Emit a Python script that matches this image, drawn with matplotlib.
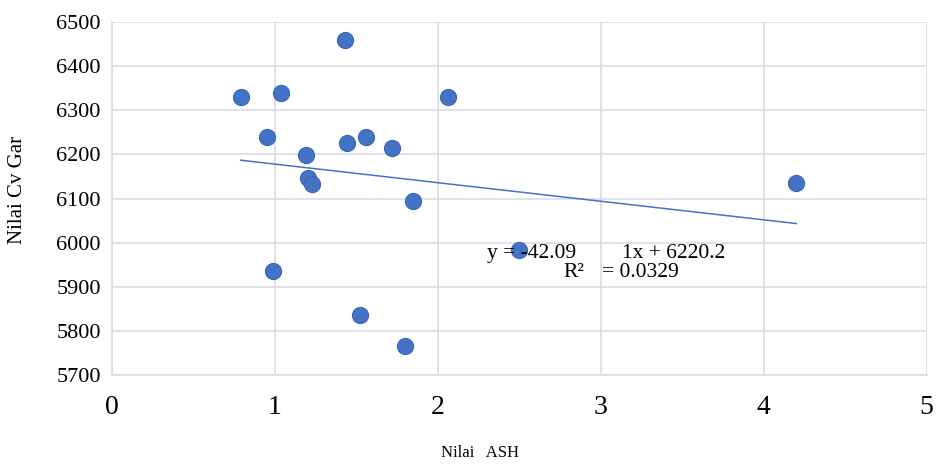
import numpy as np
import matplotlib.pyplot as plt

plt.rcParams['font.family'] = ['Liberation Serif', 'DejaVu Serif']

# Data
ash = [0.79, 1.04, 0.95, 1.19, 1.20, 1.23, 1.43, 1.44, 1.56, 1.72, 1.85, 2.06,
       0.99, 2.50, 1.52, 1.80, 4.20]
cv_gar = [6330, 6340, 6240, 6198, 6146, 6133, 6460, 6227, 6240, 6214, 6094, 6330,
          5935, 5983, 5836, 5765, 6136]

slope = -42.091
intercept = 6220.2
r2 = 0.0329

xticks = [0, 1, 2, 3, 4, 5]
yticks = [5700, 5800, 5900, 6000, 6100, 6200, 6300, 6400, 6500]

fig = plt.figure(figsize=(9.37, 4.70), dpi=100)
ax = fig.add_axes([0.1195, 0.202, 0.8695, 0.751])

grid_col = '#d9dde6'
ax.set_axisbelow(True)
ax.grid(True, color=grid_col, linewidth=1.2)
for side in ['top', 'right']:
    ax.spines[side].set_visible(False)
for side in ['left', 'bottom']:
    ax.spines[side].set_color(grid_col)
    ax.spines[side].set_linewidth(1.2)

ax.scatter(ash, cv_gar, s=135, color='#4472c4', edgecolors='#3a66b8',
           linewidths=0.8, zorder=3)

# linear trendline over the data range
xt = np.array([min(ash), max(ash)])
ax.plot(xt, slope * xt + intercept, color='#4472c4', linewidth=1.1, zorder=2)

ax.set_xlim(0, 5)
ax.set_ylim(5700, 6500)
ax.set_xticks(xticks)
ax.set_yticks(yticks)
ax.tick_params(axis='x', length=0, labelsize=20, pad=14)
ax.tick_params(axis='y', length=0, labelsize=16, pad=8)

# trendline equation (pieces are spaced apart as in the original)
eq_kw = dict(fontsize=15.5, va='center', zorder=4)
ax.text(2.30, 5976, 'y = %.2f' % slope, **eq_kw)
ax.text(3.13, 5976, '1x + %.1f' % intercept, **eq_kw)
ax.text(2.77, 5933, 'R²', **eq_kw)
ax.text(3.01, 5933, '= %.4f' % r2, **eq_kw)

fig.text(0.512, 0.02, 'Nilai   ASH', fontsize=12, ha='center', va='bottom')
fig.text(0.019, 0.596, 'Nilai Cv Gar', fontsize=15, rotation=90,
         ha='center', va='center')

fig.savefig('out.png', dpi=100)
